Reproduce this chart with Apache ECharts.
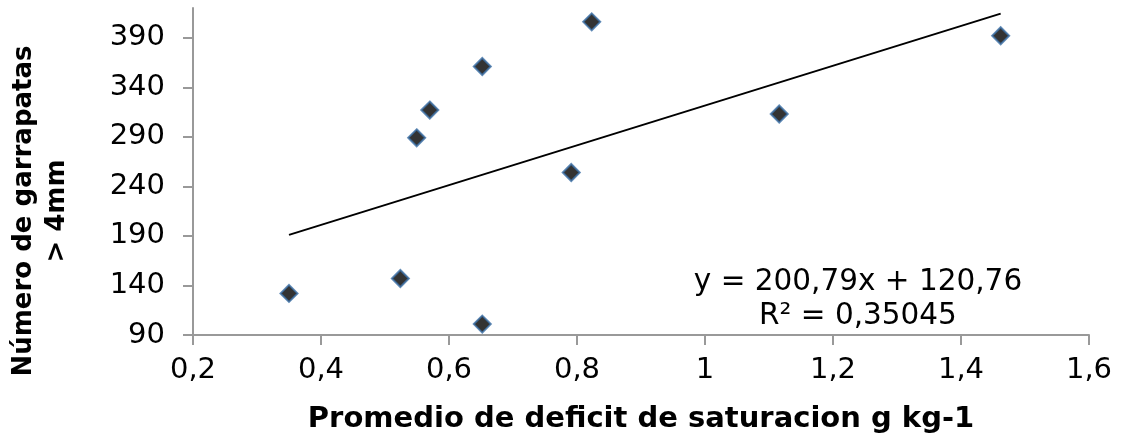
<!DOCTYPE html>
<html><head><meta charset="utf-8">
<script src="https://cdn.jsdelivr.net/npm/echarts@6/dist/echarts.min.js"></script>
<style>html,body{margin:0;padding:0;background:#fff}#c{width:1124px;height:437px}</style>
</head><body><div id="c"></div>
<script>
// Data
const deficit = [0.35, 0.524, 0.652, 0.5495, 0.570, 0.652, 0.791, 0.823, 1.116, 1.462];
const garrapatas = [132, 147, 101, 289, 317, 361, 254, 406, 313, 392];
const yTicks = [90, 140, 190, 240, 290, 340, 390];
const xTicks = [0.2, 0.4, 0.6, 0.8, 1.0, 1.2, 1.4, 1.6];
const trendSlope = 200.79;
const trendIntercept = 120.76;
const eqLine1 = 'y = 200,79x + 120,76';
const eqLine2 = 'R² = 0,35045';
const xTitle = 'Promedio de deficit de saturacion g kg-1';
const yTitle = 'Número de garrapatas\n> 4mm';

const FONT = 'DejaVu Sans';
const points = deficit.map((x, i) => [x, garrapatas[i]]);
const xMinData = Math.min(...deficit), xMaxData = Math.max(...deficit);
const trend = [xMinData, xMaxData].map(x => [x, trendSlope * x + trendIntercept]);
const fmt = v => String(parseFloat(Number(v).toFixed(2))).replace('.', ',');
const axisCol = '#999999';

const chart = echarts.init(document.getElementById('c'), null, {renderer: 'canvas'});
chart.setOption({
  animation: false,
  backgroundColor: '#ffffff',
  grid: {left: 193, right: 35, top: 8, bottom: 102, containLabel: false, outerBoundsMode: 'none'},
  xAxis: {
    type: 'value', min: 0.2, max: 1.6, interval: 0.2,
    splitLine: {show: false},
    axisLine: {show: true, lineStyle: {color: axisCol, width: 2}},
    axisTick: {show: true, length: 10, lineStyle: {color: axisCol, width: 2}, customValues: xTicks},
    axisLabel: {color: '#000', fontFamily: FONT, fontSize: 29, margin: 21, formatter: v => fmt(v), customValues: xTicks},
    name: xTitle, nameLocation: 'middle', nameGap: 70,
    nameTextStyle: {color: '#000', fontFamily: FONT, fontSize: 29, fontWeight: 'bold'}
  },
  yAxis: {
    type: 'value', min: 90, max: 420, interval: 50,
    splitLine: {show: false},
    axisLine: {show: true, lineStyle: {color: axisCol, width: 2}},
    axisTick: {show: true, length: 10, lineStyle: {color: axisCol, width: 2}, customValues: yTicks},
    axisLabel: {color: '#000', fontFamily: FONT, fontSize: 29, margin: 28,
      formatter: v => (yTicks.indexOf(v) >= 0 ? String(v) : ''), customValues: yTicks}
  },
  graphic: [
    {type: 'text', x: 41, y: 211, rotation: Math.PI / 2,
      style: {text: yTitle, fill: '#000', font: 'bold 26px "DejaVu Sans"', align: 'center', verticalAlign: 'middle', lineHeight: 33}},
    {type: 'text', x: 858, y: 299,
      style: {text: eqLine1 + '\n' + eqLine2, fill: '#000', font: '29.5px "DejaVu Sans"', align: 'center', verticalAlign: 'middle', lineHeight: 34}}
  ],
  series: [
    {type: 'line', data: trend, symbol: 'none', lineStyle: {color: '#000', width: 2}, silent: true, z: 2},
    {type: 'scatter', data: points, symbol: 'diamond', symbolSize: 17,
      itemStyle: {color: '#000', borderColor: '#3a6ea5', borderWidth: 2}, z: 3}
  ]
});
</script></body></html>
